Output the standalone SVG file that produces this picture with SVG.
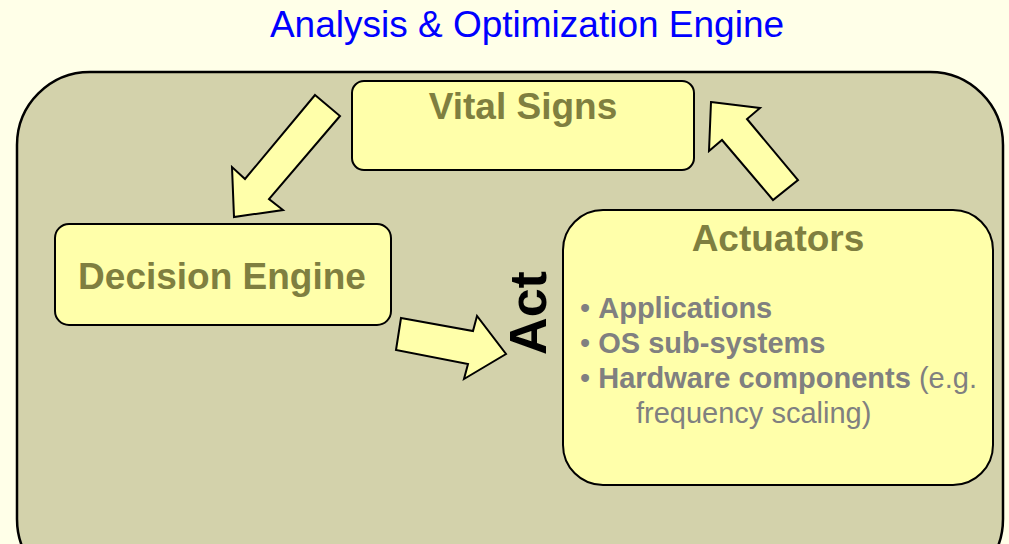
<svg xmlns="http://www.w3.org/2000/svg" width="1009" height="544" viewBox="0 0 1009 544">
<style>
.box{fill:#FFFFAA;stroke:#000;stroke-width:2}
.arrow{fill:#FFFFAA;stroke:#000;stroke-width:2;stroke-linejoin:miter}
.h{font-family:"Liberation Sans",Arial,sans-serif;font-weight:bold;font-size:37px;fill:#7F7F40;text-anchor:middle}
.b{font-family:"Liberation Sans",Arial,sans-serif;font-size:29px;fill:#808080}
.bb{font-weight:bold}
</style>
<rect width="1009" height="544" fill="#FFFFE8"/>
<text x="527" y="37" font-family="Liberation Sans, Arial, sans-serif" font-size="37" fill="#0000FF" text-anchor="middle">Analysis &amp; Optimization Engine</text>
<g id="engine">
<rect x="17" y="72" width="986" height="520" rx="73" ry="73" fill="#D3D2AB" stroke="#000" stroke-width="2.5"/>
</g>
<g id="vital-signs">
<rect class="box" x="352" y="81" width="342" height="89" rx="12"/>
<text class="h" x="523" y="119">Vital Signs</text>
</g>
<g id="decision-engine">
<rect class="box" x="55" y="224" width="336" height="101" rx="14"/>
<text class="h" x="222" y="289">Decision Engine</text>
</g>
<g id="actuators">
<rect class="box" x="563" y="210" width="430" height="275" rx="40"/>
<text class="h" x="778" y="251">Actuators</text>
<text class="b" x="580" y="318">• <tspan class="bb">Applications</tspan></text>
<text class="b" x="580" y="353">• <tspan class="bb">OS sub-systems</tspan></text>
<text class="b" x="580" y="388">• <tspan class="bb">Hardware components</tspan> (e.g.</text>
<text class="b" x="636" y="423">frequency scaling)</text>
</g>
<g id="connectors">
<polygon class="arrow" points="315,95 340,116 269,199 283,210 234,217 232,167 245,179"/>
<polygon class="arrow" points="711,102 760,108 747,119 798,180 773,200 722,140 709,151"/>
<polygon class="arrow" points="401,318 473,331 477,316 506,354 464,379 468,364 396,350"/>
<text x="0" y="0" transform="translate(546,313) rotate(-90)" font-family="Liberation Sans, Arial, sans-serif" font-weight="bold" font-size="52" fill="#000" text-anchor="middle">Act</text>
</g>
</svg>
